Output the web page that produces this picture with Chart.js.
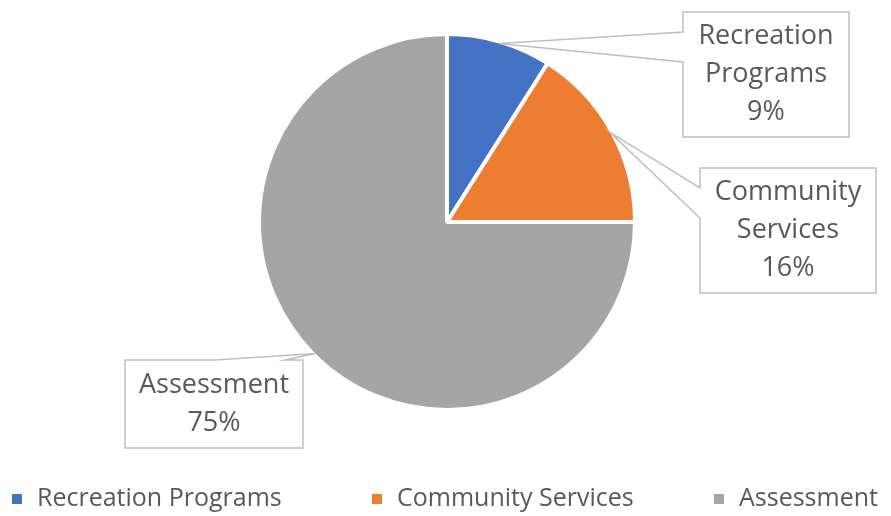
<!DOCTYPE html>
<html>
<head>
<meta charset="utf-8">
<script src="https://cdn.jsdelivr.net/npm/chart.js@4/dist/chart.umd.min.js"></script>
<style>
  html, body { margin: 0; padding: 0; background: #fff; }
  canvas { display: block; }
</style>
</head>
<body>
<canvas id="pieChart" width="891" height="516"></canvas>
<script>
// data
const categories = ['Recreation Programs', 'Community Services', 'Assessment'];
const shares = [9, 16, 75];
const sliceColors = ['#4472C4', '#ED7D31', '#A5A5A5'];

const textColor = '#595959';
const lineColor = '#BFBFBF';
const fontFamily = '"Open Sans", Lato, sans-serif';

// callout boxes: where each label box sits, and where its pointer leaves the box
const callouts = [
  { x: 683, y: 12, w: 166, h: 125, side: 'left', a: 32, b: 62 },
  { x: 700, y: 168, w: 176, h: 125, side: 'left', a: 188, b: 218 },
  { x: 125, y: 360, w: 178, h: 88, side: 'top', a: 215, b: 285 }
];
// left edge of each legend marker
const legendX = [12, 372, 714];

const calloutPlugin = {
  id: 'callouts',
  afterDatasetsDraw(chart) {
    const { ctx } = chart;
    const meta = chart.getDatasetMeta(0);
    ctx.save();
    meta.data.forEach((arc, i) => {
      const c = callouts[i];
      const mid = (arc.startAngle + arc.endAngle) / 2;
      const r = arc.outerRadius - 2;
      const tx = arc.x + Math.cos(mid) * r;
      const ty = arc.y + Math.sin(mid) * r;

      ctx.beginPath();
      if (c.side === 'left') {
        ctx.moveTo(c.x, c.y);
        ctx.lineTo(c.x + c.w, c.y);
        ctx.lineTo(c.x + c.w, c.y + c.h);
        ctx.lineTo(c.x, c.y + c.h);
        ctx.lineTo(c.x, c.b);
        ctx.lineTo(tx, ty);
        ctx.lineTo(c.x, c.a);
      } else {
        ctx.moveTo(c.x, c.y);
        ctx.lineTo(c.a, c.y);
        ctx.lineTo(tx, ty);
        ctx.lineTo(c.b, c.y);
        ctx.lineTo(c.x + c.w, c.y);
        ctx.lineTo(c.x + c.w, c.y + c.h);
        ctx.lineTo(c.x, c.y + c.h);
      }
      ctx.closePath();
      ctx.fillStyle = '#fff';
      ctx.fill();
      ctx.strokeStyle = lineColor;
      ctx.lineWidth = 1.5;
      ctx.stroke();

      const lines = [...categories[i].split(' '), shares[i] + '%'];
      const lh = 38;
      const cy = c.y + c.h / 2;
      ctx.fillStyle = textColor;
      ctx.font = `27px ${fontFamily}`;
      ctx.textAlign = 'center';
      ctx.textBaseline = 'middle';
      lines.forEach((t, k) => {
        ctx.fillText(t, c.x + c.w / 2, cy + (k - (lines.length - 1) / 2) * lh);
      });
    });

    // legend along the bottom
    ctx.font = `25px ${fontFamily}`;
    ctx.textAlign = 'left';
    ctx.textBaseline = 'middle';
    const box = 10, ly = 499;
    categories.forEach((t, i) => {
      ctx.fillStyle = sliceColors[i];
      ctx.fillRect(legendX[i], ly - box / 2, box, box);
      ctx.fillStyle = textColor;
      ctx.fillText(t, legendX[i] + box + 15, ly);
    });
    ctx.restore();
  }
};

new Chart(document.getElementById('pieChart'), {
  type: 'pie',
  data: {
    labels: categories,
    datasets: [{
      data: shares,
      backgroundColor: sliceColors,
      borderColor: '#fff',
      borderWidth: 4,
      radius: 188
    }]
  },
  options: {
    responsive: false,
    animation: false,
    layout: { padding: { top: 36, bottom: 108, left: 3, right: 0 } },
    plugins: {
      legend: { display: false },
      tooltip: { enabled: false }
    }
  },
  plugins: [calloutPlugin]
});
</script>
</body>
</html>
